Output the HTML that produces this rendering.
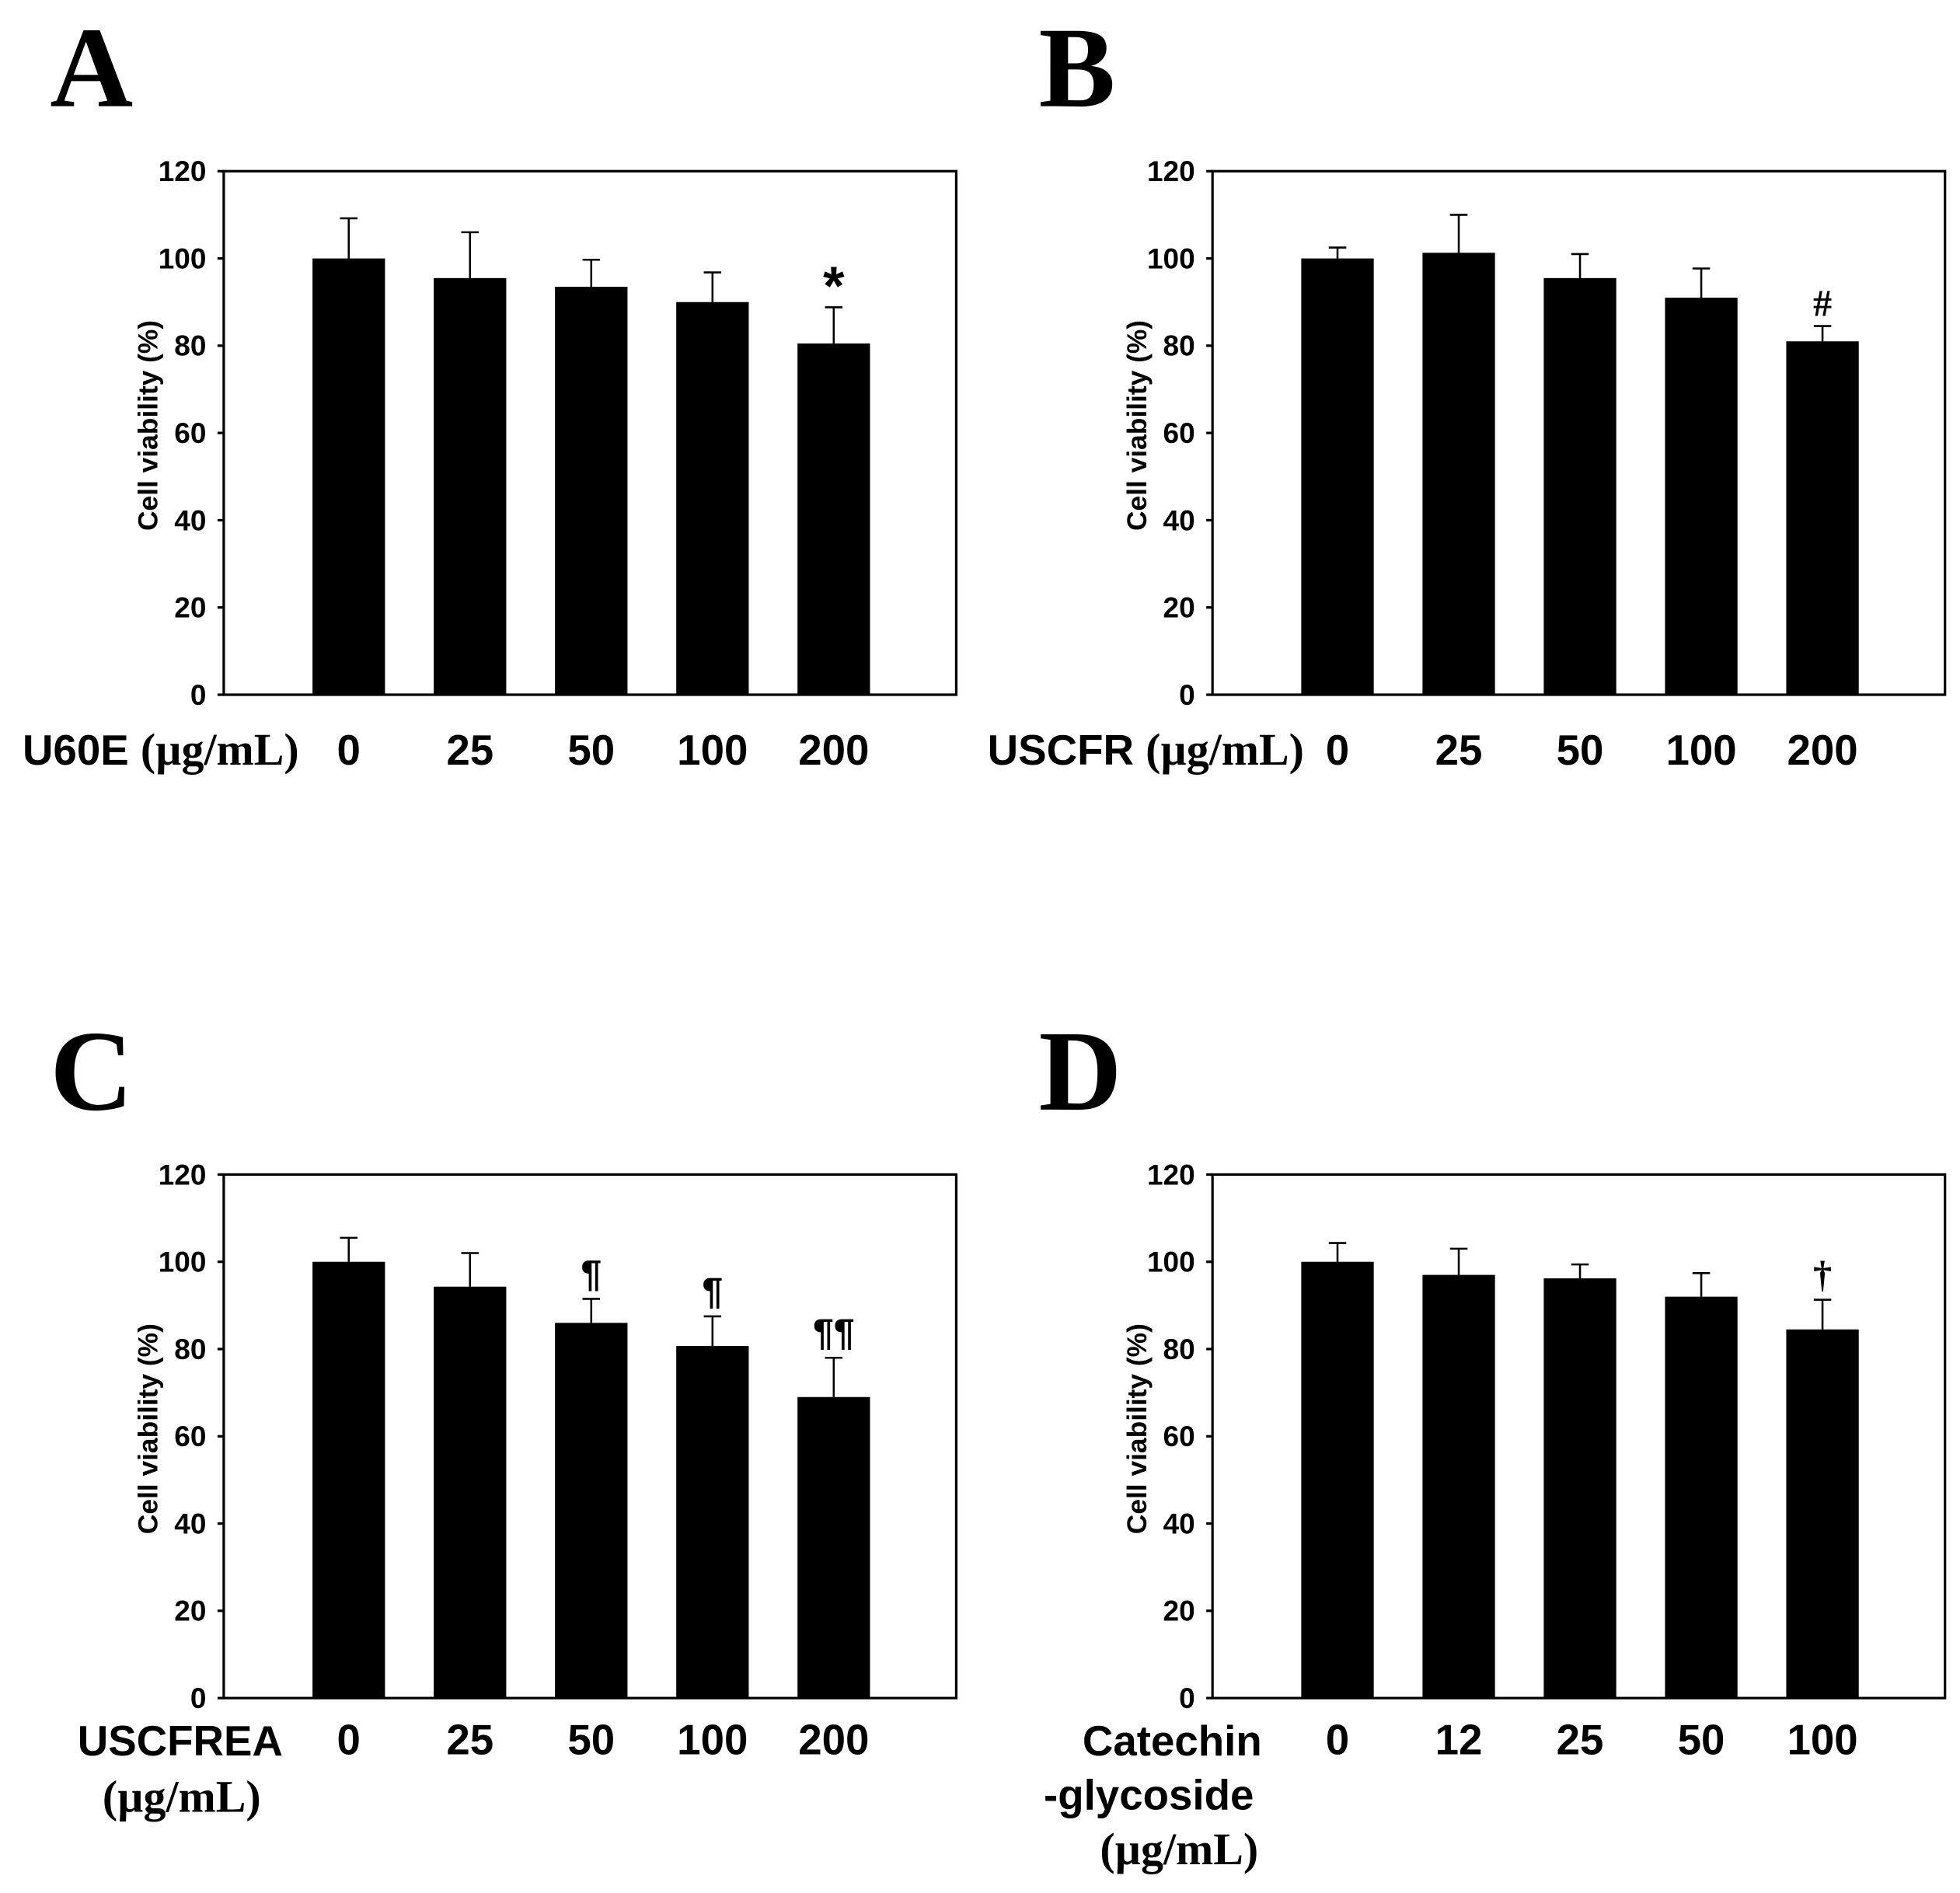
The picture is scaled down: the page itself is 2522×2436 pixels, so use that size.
<!DOCTYPE html>
<html><head><meta charset="utf-8"><style>
html,body{margin:0;padding:0;background:#fff;}
svg{display:block;}
.tick{font-family:"Liberation Sans",sans-serif;font-weight:bold;font-size:23px;}
.xl{font-family:"Liberation Sans",sans-serif;font-weight:bold;font-size:34px;}
.serif{font-family:"Liberation Serif",serif;font-weight:bold;font-size:36px;}
.letter{font-family:"Liberation Serif",serif;font-weight:bold;font-size:92px;}
.yt{font-family:"Liberation Sans",sans-serif;font-weight:bold;font-size:22px;}
</style></head><body>
<svg id="fig" width="2522" height="2436" viewBox="0 0 1568 1515" preserveAspectRatio="none" xmlns="http://www.w3.org/2000/svg"></svg>
<script>
const yTicks = [0, 20, 40, 60, 80, 100, 120];
const catsA = ["0", "25", "50", "100", "200"];
const catsD = ["0", "12", "25", "50", "100"];
const valsA = [100, 95.5, 93.5, 90, 80.5];
const errA  = [109.2, 106, 99.7, 96.8, 88.8];
const valsB = [100, 101.3, 95.5, 91, 81];
const errB  = [102.5, 110, 101, 97.7, 84.5];
const valsC = [100, 94.3, 86, 80.7, 69];
const errC  = [105.5, 102, 91.5, 87.5, 78];
const valsD = [100, 97, 96.2, 92, 84.5];
const errD  = [104.3, 103, 99.4, 97.4, 91.3];
const marksA = ["", "", "", "", "*"];
const marksB = ["", "", "", "", "#"];
const marksC = ["", "", "¶", "¶", "¶¶"];
const marksD = ["", "", "", "", "†"];

const NS = "http://www.w3.org/2000/svg";
const svg = document.getElementById('fig');
function mk(tag, attrs, parent, text){
  const e = document.createElementNS(NS, tag);
  for (const k in attrs) e.setAttribute(k, attrs[k]);
  if (text !== undefined) e.textContent = text;
  (parent || svg).appendChild(e);
  return e;
}

function panel(key, ox, oy, cats, vals, errs, marks, letter, xoff){
  const g = mk('g', {});
  
  
  const L = ox, R = ox + 586, T = oy, B = oy + 419;
  const y = v => B - (v / 120) * (B - T);
  const x = i => L + 100 + i * 97;
  const lt = mk('text', {x: ox - 139, y: oy - 52, class: 'letter'}, g, letter);
  
  
  const frame = mk('rect', {x: L, y: T, width: R - L, height: B - T, fill: 'none', stroke: '#000', 'stroke-width': 2}, g);
  
  
  yTicks.forEach(t => {
    mk('line', {x1: L - 5, x2: L, y1: y(t), y2: y(t), stroke: '#000', 'stroke-width': 2}, g);
    const tx = mk('text', {x: L - 14, y: y(t) + 8, 'text-anchor': 'end', class: 'tick'}, g, String(t));
    
    
  });
  const yt = mk('text', {transform: `translate(${L - 53},${(T + B) / 2 - 6}) rotate(-90)`, 'text-anchor': 'middle', class: 'yt'}, g, 'Cell viability (%)');
  
  
  vals.forEach((v, i) => {
    const cx = x(i);
    const bar = mk('rect', {x: cx - 29, y: y(v), width: 58, height: B - y(v), fill: '#000'}, g);
    
    
    const eb = mk('path', {d: `M${cx},${y(v)}V${y(errs[i])}M${cx - 7},${y(errs[i])}H${cx + 7}`, stroke: '#000', 'stroke-width': 1.6, fill: 'none'}, g);
    
    
    if (marks[i]) {
      const serif = marks[i] === '†' || marks[i] === '#';
      let sz = 30, dy = -10;
      if (marks[i] === '*') { sz = 44; dy = -2; }
      if (marks[i] === '#') { dy = -8; }
      const m = mk('text', {x: cx, y: y(errs[i]) + dy, 'text-anchor': 'middle', style: `font-family:${serif ? '"Liberation Serif",serif' : '"Liberation Sans",sans-serif'};font-weight:bold;font-size:${sz}px`}, g, marks[i]);
      
      
    }
    const xl = mk('text', {x: cx, y: B + xoff, 'text-anchor': 'middle', class: 'xl'}, g, cats[i]);
    
    
  });
  return g;
}

const gA = panel('a', 179, 137, catsA, valsA, errA, marksA, 'A', 56);
const gB = panel('b', 970, 137, catsA, valsB, errB, marksB, 'B', 56);
const gC = panel('c', 179, 940, catsA, valsC, errC, marksC, 'C', 45);
const gD = panel('d', 970, 940, catsD, valsD, errD, marksD, 'D', 45);

function xlab(g, x, yy, parts){
  const t = mk('text', {x: x, y: yy, class: 'xl'}, g);
  
  
  parts.forEach(p => {
    mk('tspan', p[1] ? {class: 'serif'} : {}, t, p[0]);
  });
  return t;
}
xlab(gA, 18, 612, [['U60E ', false], ['(µg/mL)', true]]);
xlab(gB, 790, 612, [['USCFR ', false], ['(µg/mL)', true]]);
xlab(gC, 62, 1405, [['USCFREA', false]]);
xlab(gC, 82, 1450, [['(µg/mL)', true]]);
xlab(gD, 866, 1405, [['Catechin', false]]);
xlab(gD, 835, 1448, [['-glycoside', false]]);
xlab(gD, 880, 1492, [['(µg/mL)', true]]);
</script>
</body></html>
